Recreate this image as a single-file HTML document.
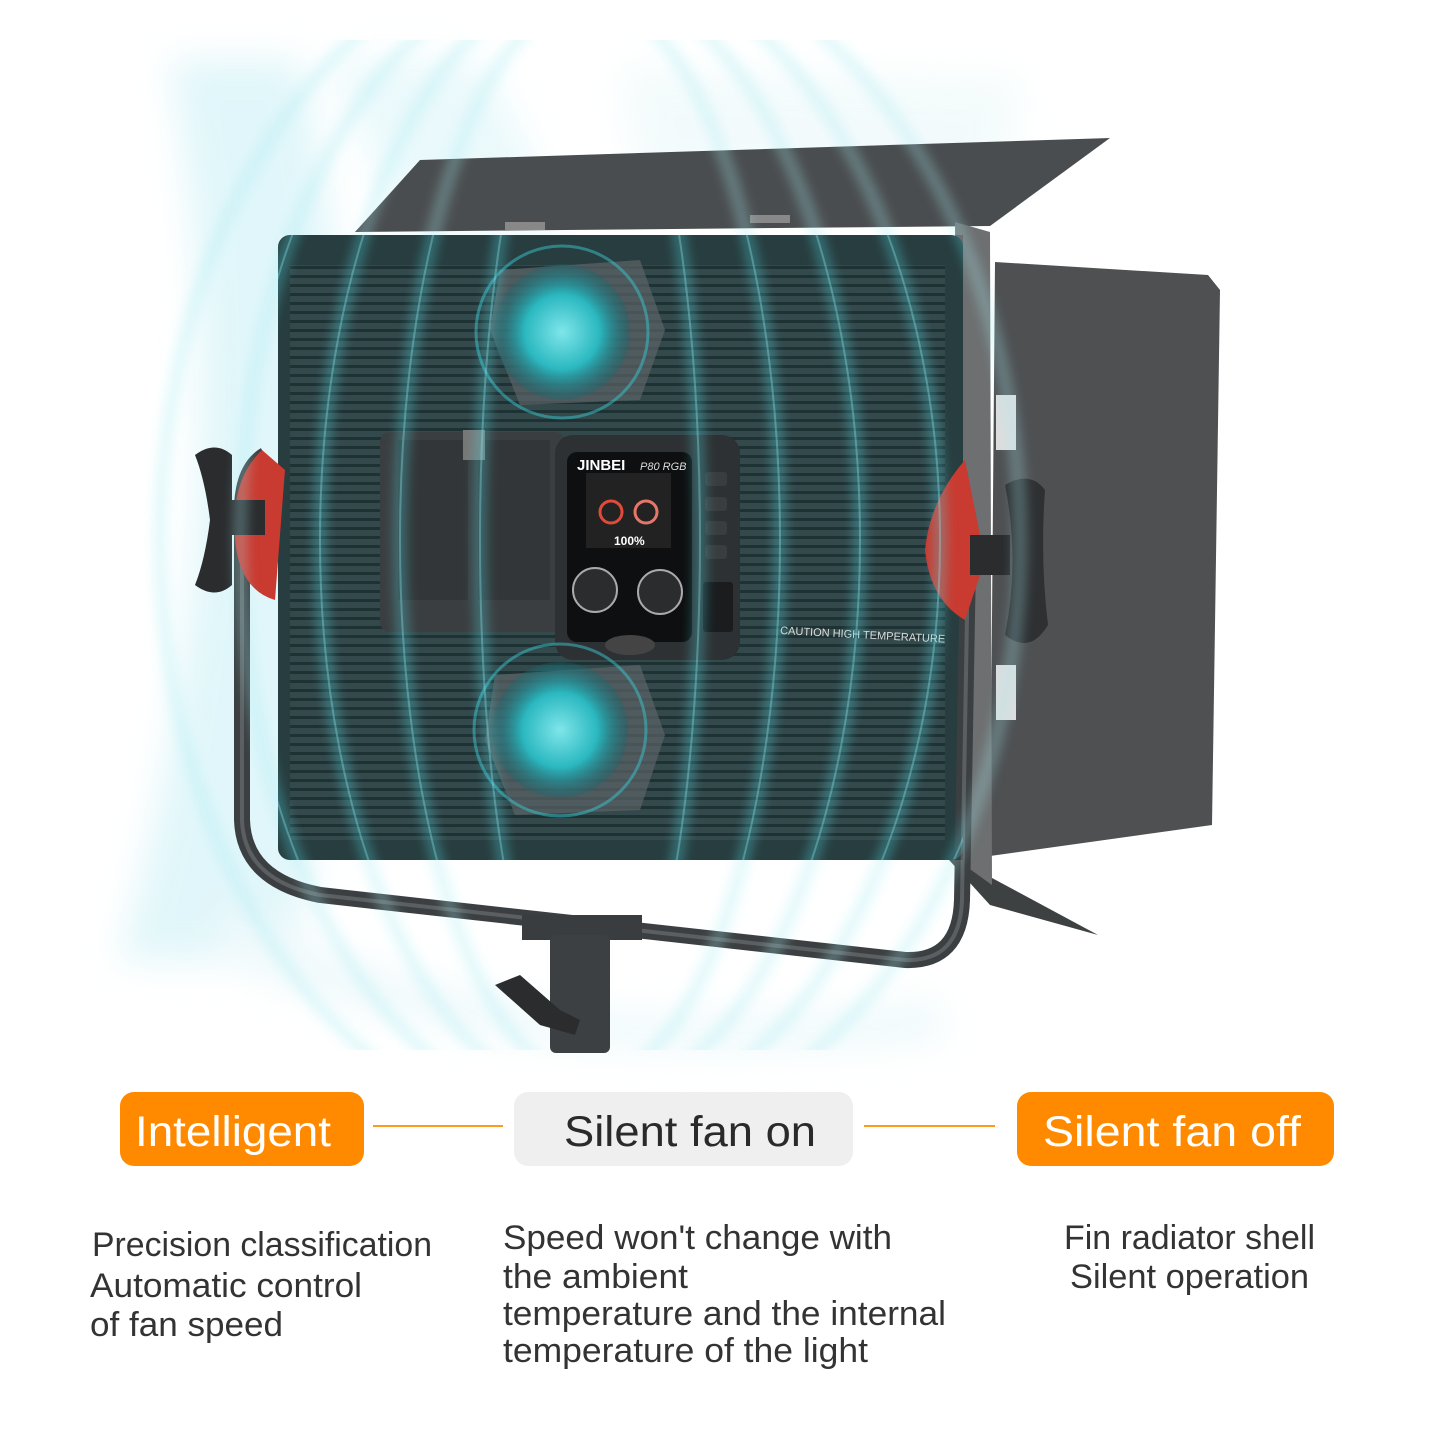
<!DOCTYPE html>
<html><head><meta charset="utf-8"><style>
html,body{margin:0;padding:0;background:#fff}
svg{display:block}
</style></head><body>
<svg width="1445" height="1445" viewBox="0 0 1445 1445" xmlns="http://www.w3.org/2000/svg">
<defs>
<pattern id="fins" width="8" height="9" patternUnits="userSpaceOnUse">
<rect width="8" height="9" fill="#3a4244"/>
<rect y="5" width="8" height="3" fill="#1e2425"/>
</pattern>
<radialGradient id="fan" cx="0.5" cy="0.5" r="0.5">
<stop offset="0" stop-color="#7fe6ea"/>
<stop offset="0.55" stop-color="#2bb8c0"/>
<stop offset="1" stop-color="#0f6a72" stop-opacity="0.3"/>
</radialGradient>
<filter id="blur" x="-20%" y="-20%" width="140%" height="140%"><feGaussianBlur stdDeviation="6"/></filter>
<filter id="blur2" x="-20%" y="-20%" width="140%" height="140%"><feGaussianBlur stdDeviation="18"/></filter>
<clipPath id="panel"><rect x="278" y="235" width="685" height="625" rx="12"/></clipPath>
<clipPath id="outer"><path d="M100 40 H1060 V1050 H100 Z M278 235 V860 H963 V235 Z" clip-rule="evenodd"/></clipPath>
</defs>

<!-- soft glow background -->
<g filter="url(#blur2)" opacity="0.7">
<path d="M170 60 Q250 500 120 960 L290 960 Q400 500 300 60 Z" fill="#d4f3f8"/>
<path d="M330 60 Q430 300 400 240 L560 240 Q560 200 480 60 Z" fill="#e2f7fa"/>
<path d="M620 70 L1020 80 L1000 200 L640 180 Z" fill="#eef9fb"/>
<path d="M220 900 Q500 1060 940 1000 L940 1040 Q500 1080 220 960 Z" fill="#e8f7fa"/>
</g>

<!-- top barn door -->
<polygon points="355,232 420,160 1110,138 990,226" fill="#4a4d4f"/>
<rect x="505" y="222" width="40" height="8" fill="#888"/>
<rect x="750" y="215" width="40" height="8" fill="#888"/>
<!-- right barn door -->
<polygon points="995,262 1208,275 1220,290 1212,825 990,856" fill="#4e5052"/>
<!-- bottom barn door -->
<polygon points="940,850 1098,935 990,905" fill="#3e4142"/>
<!-- panel side -->
<polygon points="955,222 990,232 992,885 960,862" fill="#6d6f70"/>
<rect x="996" y="395" width="20" height="55" fill="#ddd"/>
<rect x="996" y="665" width="20" height="55" fill="#ddd"/>
<!-- panel face -->
<rect x="278" y="235" width="685" height="625" rx="12" fill="#2b3234"/>
<rect x="290" y="265" width="655" height="575" fill="url(#fins)"/>
<rect x="278" y="235" width="685" height="625" rx="12" fill="#1f6a70" opacity="0.2"/>

<!-- yoke -->
<path d="M265 455 Q240 470 242 520 L242 820 Q244 880 320 895 L905 960 Q960 962 962 900 L968 560 Q968 520 945 505" fill="none" stroke="#3b3f41" stroke-width="16"/>
<path d="M265 455 Q240 470 242 520 L242 820 Q244 880 320 895 L905 960 Q960 962 962 900 L968 560" fill="none" stroke="#5b5f61" stroke-width="4"/>
<path d="M262 450 Q230 480 235 540 Q240 590 275 600 L285 470 Z" fill="#c93a30"/>
<path d="M965 460 Q930 500 925 550 Q930 600 965 620 L985 560 Z" fill="#c93a30"/>
<path d="M195 455 Q215 440 232 455 L232 585 Q215 600 195 585 Q205 560 210 520 Q205 480 195 455 Z" fill="#2a2c2e"/>
<rect x="225" y="500" width="40" height="35" fill="#2a2c2e"/>
<rect x="970" y="535" width="40" height="40" fill="#2a2c2e"/>
<path d="M1005 485 Q1030 470 1045 490 Q1040 560 1048 625 Q1030 655 1005 635 Q1020 560 1005 485 Z" fill="#2e3032"/>
<rect x="522" y="915" width="120" height="25" fill="#3a3d3f"/>
<rect x="550" y="935" width="60" height="118" rx="6" fill="#3d4042"/>
<path d="M495 985 L520 975 L560 1010 L580 1020 L575 1035 L540 1025 Z" fill="#2a2c2e"/>

<!-- control box -->
<rect x="380" y="432" width="185" height="200" rx="10" fill="#3b3e40"/>
<rect x="398" y="440" width="70" height="160" fill="#333638"/>
<rect x="478" y="440" width="72" height="160" fill="#333638"/>
<rect x="463" y="430" width="22" height="30" fill="#777"/>
<rect x="555" y="435" width="185" height="225" rx="18" fill="#2e3133"/>
<rect x="567" y="452" width="125" height="190" rx="10" fill="#0e0f10"/>
<rect x="586" y="473" width="85" height="75" fill="#222"/>
<text x="577" y="470" font-family="Liberation Sans, sans-serif" font-weight="bold" font-size="15" fill="#fff">JINBEI</text>
<text x="640" y="470" font-family="Liberation Sans, sans-serif" font-style="italic" font-size="11" fill="#ddd">P80 RGB</text>
<circle cx="611" cy="512" r="11" fill="none" stroke="#e04a3a" stroke-width="3"/>
<circle cx="646" cy="512" r="11" fill="none" stroke="#e6766a" stroke-width="3"/>
<text x="614" y="545" font-family="Liberation Sans, sans-serif" font-weight="bold" font-size="12" fill="#fff">100%</text>
<circle cx="595" cy="590" r="22" fill="#2a2c2e" stroke="#aaa" stroke-width="2"/>
<circle cx="660" cy="592" r="22" fill="#2a2c2e" stroke="#aaa" stroke-width="2"/>
<rect x="705" y="472" width="22" height="14" rx="3" fill="#3a3d40"/>
<rect x="705" y="497" width="22" height="14" rx="3" fill="#3a3d40"/>
<rect x="705" y="521" width="22" height="14" rx="3" fill="#3a3d40"/>
<rect x="705" y="545" width="22" height="14" rx="3" fill="#3a3d40"/>
<rect x="703" y="582" width="30" height="50" rx="3" fill="#1a1c1e"/>
<ellipse cx="630" cy="645" rx="25" ry="10" fill="#444"/>
<text x="780" y="634" font-family="Liberation Sans, sans-serif" font-size="11" fill="#ddd" transform="rotate(3 780 634)">CAUTION HIGH TEMPERATURE</text>

<!-- fans -->
<polygon points="500,270 640,260 665,330 640,400 520,405 490,330" fill="#5b6466" opacity="0.7"/>
<circle cx="562" cy="332" r="68" fill="url(#fan)"/>
<circle cx="562" cy="332" r="86" fill="none" stroke="#38c8d0" stroke-width="3" opacity="0.5"/>
<polygon points="495,675 640,665 665,735 640,810 515,815 485,740" fill="#5b6466" opacity="0.7"/>
<circle cx="560" cy="730" r="68" fill="url(#fan)"/>
<circle cx="560" cy="730" r="86" fill="none" stroke="#38c8d0" stroke-width="3" opacity="0.5"/>

<!-- air waves inside panel -->
<g clip-path="url(#panel)">
<g filter="url(#blur)" fill="none" stroke="#4fd6e0" stroke-width="10" opacity="0.45">
<ellipse cx="590" cy="540" rx="110" ry="520"/>
<ellipse cx="590" cy="540" rx="190" ry="540"/>
<ellipse cx="590" cy="540" rx="270" ry="560"/>
<ellipse cx="590" cy="540" rx="350" ry="580"/>
<ellipse cx="590" cy="540" rx="430" ry="600"/>
</g>
<g fill="none" stroke="#8fe8ee" stroke-width="2" opacity="0.35">
<ellipse cx="590" cy="540" rx="110" ry="520"/>
<ellipse cx="590" cy="540" rx="190" ry="540"/>
<ellipse cx="590" cy="540" rx="270" ry="560"/>
<ellipse cx="590" cy="540" rx="350" ry="580"/>
<ellipse cx="590" cy="540" rx="430" ry="600"/>
</g>
</g>
<!-- faint waves outside -->
<g clip-path="url(#outer)" filter="url(#blur)" fill="none" stroke="#a8ecf2" stroke-width="12" opacity="0.35">
<ellipse cx="590" cy="540" rx="190" ry="540"/>
<ellipse cx="590" cy="540" rx="270" ry="560"/>
<ellipse cx="590" cy="540" rx="350" ry="580"/>
<ellipse cx="590" cy="540" rx="430" ry="600"/>
</g>

<!-- bottom labels -->
<rect x="120" y="1092" width="244" height="74" rx="14" fill="#ff8a00"/>
<text x="233" y="1146" text-anchor="middle" font-family="Liberation Sans, sans-serif" font-size="43" fill="#fff" textLength="196" lengthAdjust="spacingAndGlyphs">Intelligent</text>
<line x1="373" y1="1126" x2="503" y2="1126" stroke="#ff9a20" stroke-width="2"/>
<rect x="514" y="1092" width="339" height="74" rx="14" fill="#efefef"/>
<text x="690" y="1146" text-anchor="middle" font-family="Liberation Sans, sans-serif" font-size="43" fill="#2a2a2a" textLength="252" lengthAdjust="spacingAndGlyphs">Silent fan on</text>
<line x1="864" y1="1126" x2="995" y2="1126" stroke="#ff9a20" stroke-width="2"/>
<rect x="1017" y="1092" width="317" height="74" rx="14" fill="#ff8a00"/>
<text x="1172" y="1146" text-anchor="middle" font-family="Liberation Sans, sans-serif" font-size="43" fill="#fff" textLength="258" lengthAdjust="spacingAndGlyphs">Silent fan off</text>

<g font-family="Liberation Sans, sans-serif" font-size="34" fill="#333">
<text x="92" y="1256" textLength="340" lengthAdjust="spacingAndGlyphs">Precision classification</text>
<text x="90" y="1297" textLength="272" lengthAdjust="spacingAndGlyphs">Automatic control</text>
<text x="90" y="1336" textLength="193" lengthAdjust="spacingAndGlyphs">of fan speed</text>
<text x="503" y="1249" textLength="389" lengthAdjust="spacingAndGlyphs">Speed won't change with</text>
<text x="503" y="1288" textLength="185" lengthAdjust="spacingAndGlyphs">the ambient</text>
<text x="503" y="1325" textLength="443" lengthAdjust="spacingAndGlyphs">temperature and the internal</text>
<text x="503" y="1362" textLength="365" lengthAdjust="spacingAndGlyphs">temperature of the light</text>
<text x="1064" y="1249" textLength="251" lengthAdjust="spacingAndGlyphs">Fin radiator shell</text>
<text x="1070" y="1288" textLength="239" lengthAdjust="spacingAndGlyphs">Silent operation</text>
</g>
</svg>
</body></html>
